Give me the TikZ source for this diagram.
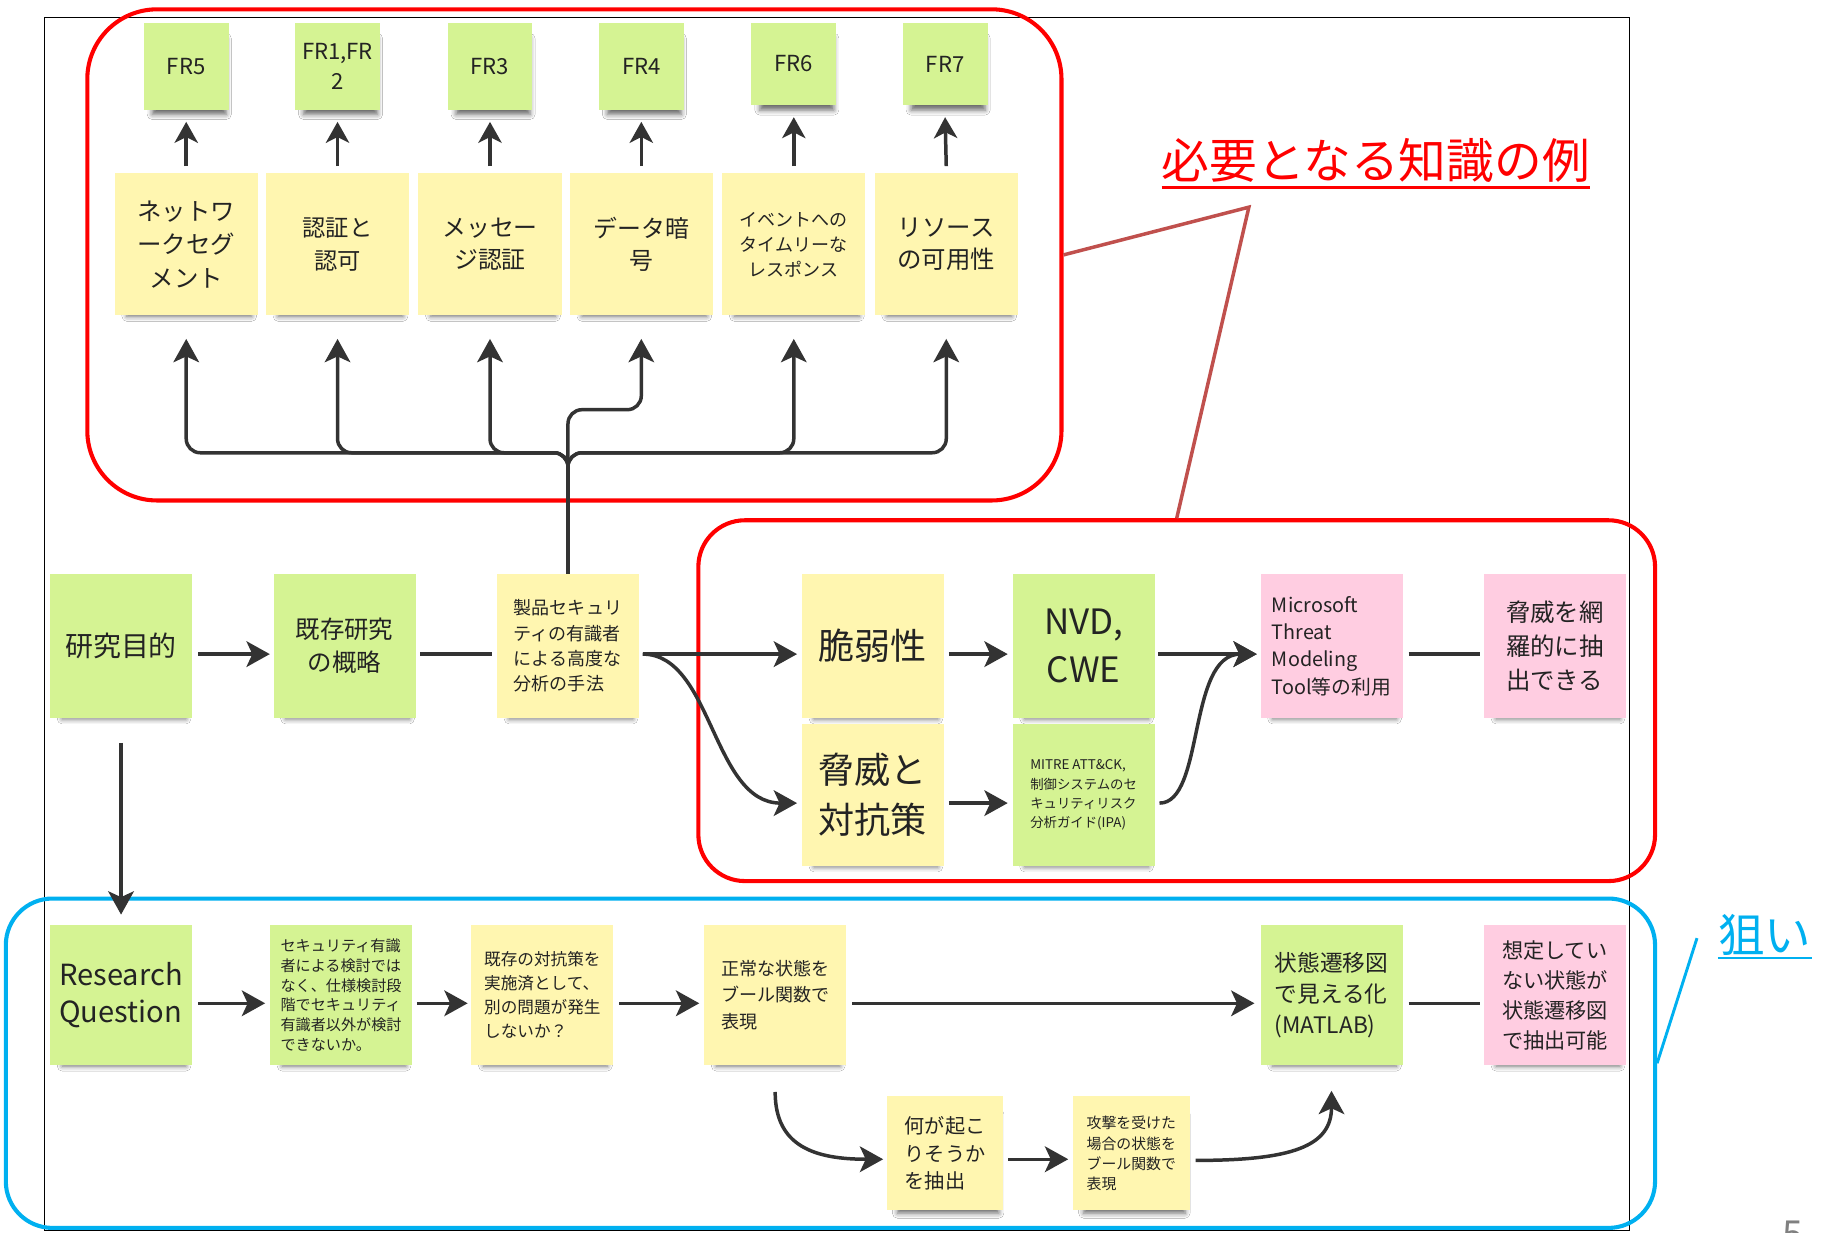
\documentclass[tikz,border=0pt]{standalone}
\usepackage{fontspec}
\setmainfont{Noto Sans CJK JP}
\usetikzlibrary{arrows.meta,shadows,shadows.blur}
\definecolor{stgreen}{RGB}{213,243,147}
\definecolor{styellow}{RGB}{255,246,176}
\definecolor{stpink}{RGB}{255,205,225}
\definecolor{ink}{RGB}{51,51,51}
\definecolor{txt}{RGB}{35,35,35}
\definecolor{frred}{RGB}{255,0,0}
\definecolor{frblue}{RGB}{0,176,240}
\definecolor{brline}{RGB}{192,80,77}
\newcommand\fsz[2]{\fontsize{#1pt}{#2pt}\selectfont}
\begin{document}
\begin{tikzpicture}[x=1pt,y=-1pt,
  sticky/.style={inner sep=0pt, text=txt, align=center,
    blur shadow={shadow xshift=3pt, shadow yshift=-10pt, shadow scale=0.87,
      shadow blur radius=5pt, shadow opacity=60}},
  gnote/.style={sticky, fill=stgreen},
  ynote/.style={sticky, fill=styellow},
  pnote/.style={sticky, fill=stpink},
  frnote/.style={gnote, minimum width=73pt, minimum height=75pt, font={\fsz{19}{26}}},
  knote/.style={ynote, minimum width=123pt, minimum height=122pt},
  bignote/.style={minimum width=122pt, minimum height=124pt},
  rownote/.style={minimum width=122pt, minimum height=120pt},
  smallnote/.style={minimum width=100pt, minimum height=98pt},
  frame/.style={draw, line width=3.5pt, inner sep=0pt},
  conn/.style={draw=ink, line width=3pt},
  arr/.style={conn, -{Stealth[length=20pt,width=22pt,inset=5pt]}},
  sarr/.style={conn, -{Stealth[length=18pt,width=20pt,inset=5pt]}},
]
\useasboundingbox (0,0) rectangle (1568,1059);
\fill[white] (0,0) rectangle (1568,1059);

% outer black frame
\draw[line width=1.2pt, black] (38,15) rectangle (1400,1057);

% group frames
\node[frame, draw=frred, rounded corners=60pt, minimum width=837pt, minimum height=422pt] (f1) at (493.5,219) {};
\node[frame, draw=frred, rounded corners=40pt, minimum width=822pt, minimum height=310pt] (f2) at (1011,602) {};
\node[frame, draw=frblue, rounded corners=40pt, minimum width=1417pt, minimum height=283pt] (fb) at (713.5,913.5) {};

% captions
\node[text=frred, inner sep=0pt, anchor=base west, font={\fsz{41}{41}}] (cap) at (998,153) {必要となる知識の例};
\draw[frred, line width=2pt] ([yshift=-8pt]cap.base west) -- ([yshift=-8pt]cap.base east);
\node[text=frblue, inner sep=0pt, anchor=base west, font={\fsz{40}{40}}] (nerai) at (1476,818) {狙い};
\draw[frblue, line width=2pt] ([yshift=-5pt]nerai.base west) -- ([yshift=-5pt]nerai.base east);
\node[text=gray, inner sep=0pt, anchor=base, font={\fsz{32}{32}}] (pg) at (1540,1072) {5};

\coordinate (apex) at (1073,178);
\draw[brline, line width=3pt] (f1.east) -- (apex) -- (f2.north);
\draw[frblue, line width=2.5pt] ([shift={(-18pt,12pt)}]nerai.base west) -- (fb.east);

% FR row
\node[frnote] (fr5) at (160,57) {FR5};
\node[frnote] (fr12) at (290,57) {FR1,FR\\2};
\node[frnote] (fr3) at (421,57) {FR3};
\node[frnote] (fr4) at (551,57) {FR4};
\node[frnote, minimum height=71pt] (fr6) at (682,55) {FR6};
\node[frnote, minimum height=71pt] (fr7) at (812,55) {FR7};

% knowledge row
\node[knote, font={\fsz{21}{29}}] (k1) at (160,210) {ネットワ\\ークセグ\\メント};
\node[knote, font={\fsz{20}{28}}] (k2) at (290,210) {認証と\\認可};
\node[knote, font={\fsz{20.5}{28}}] (k3) at (421,210) {メッセー\\ジ認証};
\node[knote, font={\fsz{20.5}{28}}] (k4) at (551,210) {データ暗\\号};
\node[knote, font={\fsz{15.5}{21.5}}] (k5) at (682,210) {イベントへの\\タイムリーな\\レスポンス};
\node[knote, font={\fsz{21}{28}}] (k6) at (813,210) {リソース\\の可用性};

\foreach \a/\b in {k1/fr5,k2/fr12,k3/fr3,k4/fr4,k5/fr6,k6/fr7}
  \draw[sarr] ([yshift=6pt]\a.north) -- ([yshift=-10pt]\b.south);

% middle row
\node[gnote, bignote, font={\fsz{24}{30}}] (goal) at (104,555) {研究目的};
\node[gnote, bignote, font={\fsz{21}{28}}] (survey) at (296,555) {既存研究\\の概略};
\node[ynote, bignote, align=left, font={\fsz{15.5}{21.7}}] (method) at (488,555) {製品セキュリ\\ティの有識者\\による高度な\\分析の手法};
\node[ynote, bignote, font={\fsz{31}{40}}] (vul) at (750,555) {脆弱性};
\node[gnote, bignote, font={\fsz{30}{41}}] (nvd) at (931,555) {NVD,\\CWE};
\node[pnote, bignote, align=left, font={\fsz{17}{23.5}}] (ms) at (1144,555) {Microsoft\\Threat\\Modeling\\Tool等の利用};
\node[pnote, bignote, align=left, font={\fsz{21}{29}}] (extract) at (1336,555) {脅威を網\\羅的に抽\\出できる};
\node[ynote, minimum width=122pt, minimum height=122pt, font={\fsz{31}{43}}] (threat) at (750,683) {脅威と\\対抗策};
\node[gnote, minimum width=122pt, minimum height=122pt, align=left, font={\fsz{11.5}{16.5}}] (mitre) at (931,683) {MITRE ATT\&CK,\\制御システムのセ\\キュリティリスク\\分析ガイド(IPA)};

% bottom row
\node[gnote, rownote, align=left, font={\fsz{25}{32}}] (rq) at (104,855) {Research\\Question};
\node[gnote, rownote, align=left, font={\fsz{13}{17}}] (sec) at (293,855) {セキュリティ有識\\者による検討では\\なく、仕様検討段\\階でセキュリティ\\有識者以外が検討\\できないか。};
\node[ynote, rownote, align=left, font={\fsz{14.3}{20.5}}] (exist) at (466,855) {既存の対抗策を\\実施済として、\\別の問題が発生\\しないか？};
\node[ynote, rownote, align=left, font={\fsz{15.5}{23}}] (normal) at (666,855) {正常な状態を\\ブール関数で\\表現};
\node[gnote, rownote, align=left, font={\fsz{19.5}{26.5}}] (stm) at (1144,855) {状態遷移図\\で見える化\\(MATLAB)};
\node[pnote, rownote, align=left, font={\fsz{18.2}{25.7}}] (unexp) at (1336,855) {想定してい\\ない状態が\\状態遷移図\\で抽出可能};
\node[ynote, smallnote, align=left, font={\fsz{17.3}{23.5}}] (what) at (812,991) {何が起こ\\りそうか\\を抽出};
\node[ynote, smallnote, align=left, font={\fsz{12.8}{17.3}}] (attack) at (972,991) {攻撃を受けた\\場合の状態を\\ブール関数で\\表現};

% tree from method to knowledge row
\coordinate (J) at (488,405);
\draw[conn] (method.north) -- (J);
\draw[arr, rounded corners=12pt] (J) -- (488,389) -- (160,389) -- ([yshift=-20pt]k1.south);
\draw[arr, rounded corners=12pt] (J) -- (488,389) -- (290,389) -- ([yshift=-20pt]k2.south);
\draw[arr, rounded corners=12pt] (J) -- (488,389) -- (421,389) -- ([yshift=-20pt]k3.south);
\draw[arr, rounded corners=12pt] (J) -- (488,352) -- (551,352) -- ([yshift=-20pt]k4.south);
\draw[arr, rounded corners=12pt] (J) -- (488,389) -- (682,389) -- ([yshift=-20pt]k5.south);
\draw[arr, rounded corners=12pt] (J) -- (488,389) -- (813,389) -- ([yshift=-20pt]k6.south);

% middle connectors
\draw[arr] ([shift={(5pt,-7pt)}]goal.east) -- ([shift={(-3pt,-7pt)}]survey.west);
\draw[conn] ([shift={(4pt,-7pt)}]survey.east) -- ([shift={(-4pt,-7pt)}]method.west);
\draw[arr] ([shift={(3pt,-7pt)}]method.east) -- ([shift={(-4pt,-7pt)}]vul.west);
\draw[arr] ([shift={(3pt,-7pt)}]method.east) .. controls (612,562) and (612,690) .. ([shift={(-4pt,-7pt)}]threat.west);
\draw[arr] ([shift={(4pt,-7pt)}]vul.east) -- ([shift={(-4pt,-7pt)}]nvd.west);
\draw[arr] ([shift={(4pt,-7pt)}]threat.east) -- ([shift={(-4pt,-7pt)}]mitre.west);
\draw[arr] ([shift={(3pt,-7pt)}]nvd.east) -- ([shift={(-3pt,-7pt)}]ms.west);
\draw[arr] ([shift={(4pt,-7pt)}]mitre.east) .. controls (1035,690) and (1020,562) .. ([shift={(-3pt,-7pt)}]ms.west);
\draw[conn] ([shift={(5pt,-7pt)}]ms.east) -- ([shift={(-3pt,-7pt)}]extract.west);
\draw[arr] ([yshift=-21pt]goal.south) -- ([yshift=9pt]rq.north);

% bottom connectors
\draw[arr] ([shift={(5pt,-7pt)}]rq.east) -- ([shift={(-4pt,-7pt)}]sec.west);
\draw[arr] ([shift={(4pt,-7pt)}]sec.east) -- ([shift={(-3pt,-7pt)}]exist.west);
\draw[arr] ([shift={(5pt,-7pt)}]exist.east) -- ([shift={(-4pt,-7pt)}]normal.west);
\draw[arr] ([shift={(5pt,-7pt)}]normal.east) -- ([shift={(-5pt,-7pt)}]stm.west);
\draw[conn] ([shift={(5pt,-7pt)}]stm.east) -- ([shift={(-3pt,-7pt)}]unexp.west);
\draw[arr] ([yshift=-23pt]normal.south) .. controls (666,985) and (700,996) .. ([shift={(-3pt,-5pt)}]what.west);
\draw[arr] ([shift={(4pt,-5pt)}]what.east) -- ([shift={(-4pt,-5pt)}]attack.west);
\draw[arr] ([shift={(5pt,-6pt)}]attack.east) .. controls (1110,997) and (1144,985) .. ([yshift=-22pt]stm.south);
\end{tikzpicture}
\end{document}
